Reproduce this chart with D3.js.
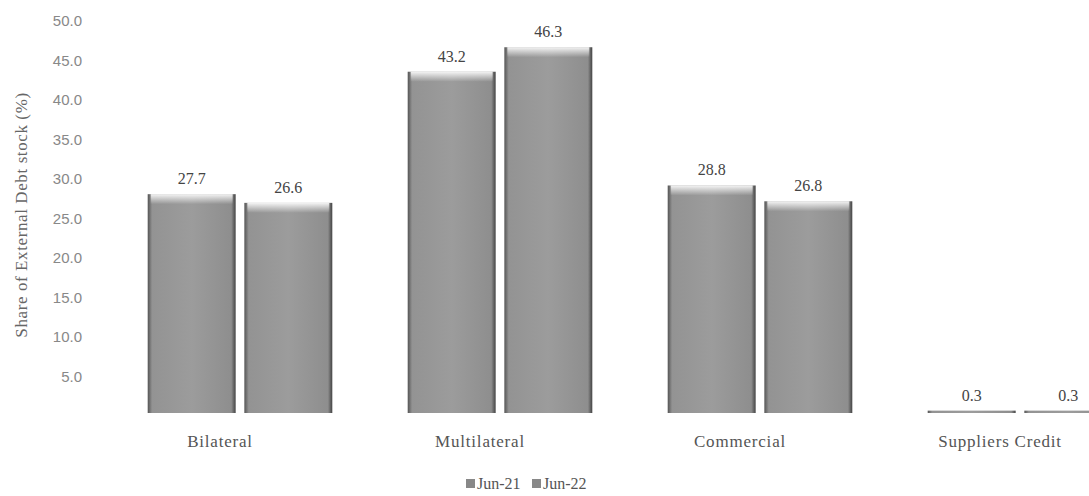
<!DOCTYPE html>
<html><head><meta charset="utf-8">
<script src="https://cdn.jsdelivr.net/npm/d3@7"></script>
<style>body{margin:0;background:#fff}svg{display:block}</style>
</head><body><div id="c"></div>
<script>
const categories = ["Bilateral","Multilateral","Commercial","Suppliers Credit"];
const seriesNames = ["Jun-21","Jun-22"];
const jun21 = [27.7, 43.2, 28.8, 0.3];
const jun22 = [26.6, 46.3, 26.8, 0.3];
const tickValues = [5,10,15,20,25,30,35,40,45,50];
const yTitle = "Share of External Debt stock (%)";

const W = 1089, H = 496;
const svg = d3.select("#c").append("svg").attr("width", W).attr("height", H);
const defs = svg.append("defs");
const g1 = defs.append("linearGradient").attr("id","barg").attr("x1","0").attr("x2","1").attr("y1","0").attr("y2","0");
g1.append("stop").attr("offset","0").attr("stop-color","#555");
g1.append("stop").attr("offset","0.05").attr("stop-color","#939393");
g1.append("stop").attr("offset","0.5").attr("stop-color","#9c9c9c");
g1.append("stop").attr("offset","0.95").attr("stop-color","#8e8e8e");
g1.append("stop").attr("offset","1").attr("stop-color","#444");
const g2 = defs.append("linearGradient").attr("id","topg").attr("x1","0").attr("x2","0").attr("y1","0").attr("y2","1");
g2.append("stop").attr("offset","0").attr("stop-color","#fff").attr("stop-opacity",0.9);
g2.append("stop").attr("offset","1").attr("stop-color","#fff").attr("stop-opacity",0);

const x = d3.scaleBand().domain(categories).range([110,1150]).paddingInner(0.29).paddingOuter(0.145);
const xs = d3.scaleBand().domain(seriesNames).range([0, x.bandwidth()]).paddingInner(0.09);
const y = d3.scaleLinear().domain([0,50]).range([413,18]);

// y axis
const yAxis = d3.axisLeft(y).tickValues(tickValues).tickFormat(d3.format(".1f")).tickSize(0).tickPadding(0);
const ya = svg.append("g").attr("transform","translate(82,3)").call(yAxis);
ya.select(".domain").remove();
ya.selectAll("text").attr("font-family","'Liberation Sans', Arial, sans-serif").attr("font-size",15).attr("fill","#888");

svg.append("text").attr("transform","translate(27,215) rotate(-90)").attr("text-anchor","middle")
  .attr("font-family","'Liberation Serif', serif").attr("font-size",17).attr("letter-spacing",0.6).attr("fill","#666").text(yTitle);

const data = [];
categories.forEach((c,i)=>{ data.push({c, s:"Jun-21", v:jun21[i]}); data.push({c, s:"Jun-22", v:jun22[i]}); });

const bars = svg.append("g");
bars.selectAll("rect.bar").data(data).join("rect").attr("class","bar")
  .attr("x", d=> x(d.c)+xs(d.s)).attr("width", xs.bandwidth())
  .attr("y", d=> y(d.v)).attr("height", d=> y(0)-y(d.v))
  .attr("fill","url(#barg)");
bars.selectAll("rect.hl").data(data.filter(d=>d.v>1)).join("rect").attr("class","hl")
  .attr("x", d=> x(d.c)+xs(d.s)+3).attr("width", xs.bandwidth()-6)
  .attr("y", d=> y(d.v)).attr("height", 10).attr("fill","url(#topg)");

svg.append("g").selectAll("text").data(data).join("text")
  .attr("x", d=> x(d.c)+xs(d.s)+xs.bandwidth()/2)
  .attr("y", d=> y(d.v)-10).attr("text-anchor","middle")
  .attr("font-family","'Liberation Serif', serif").attr("font-size",16).attr("fill","#444")
  .text(d=> d3.format(".1f")(d.v));

// category labels
const xa = svg.append("g").attr("transform","translate(-20,435)").call(d3.axisBottom(x).tickSize(0).tickPadding(0));
xa.select(".domain").remove();
xa.selectAll("text").attr("font-family","'Liberation Serif', serif").attr("font-size",17).attr("letter-spacing",0.8).attr("fill","#555");

// legend
const leg = svg.append("g").attr("transform","translate(466,489)");
seriesNames.forEach((s,i)=>{
  const gx = i*66;
  leg.append("rect").attr("x",gx).attr("y",-10).attr("width",9).attr("height",9).attr("fill","#888");
  leg.append("text").attr("x",gx+11).attr("y",0).attr("font-family","'Liberation Serif', serif")
    .attr("font-size",16).attr("fill","#555").text(s);
});
</script></body></html>
